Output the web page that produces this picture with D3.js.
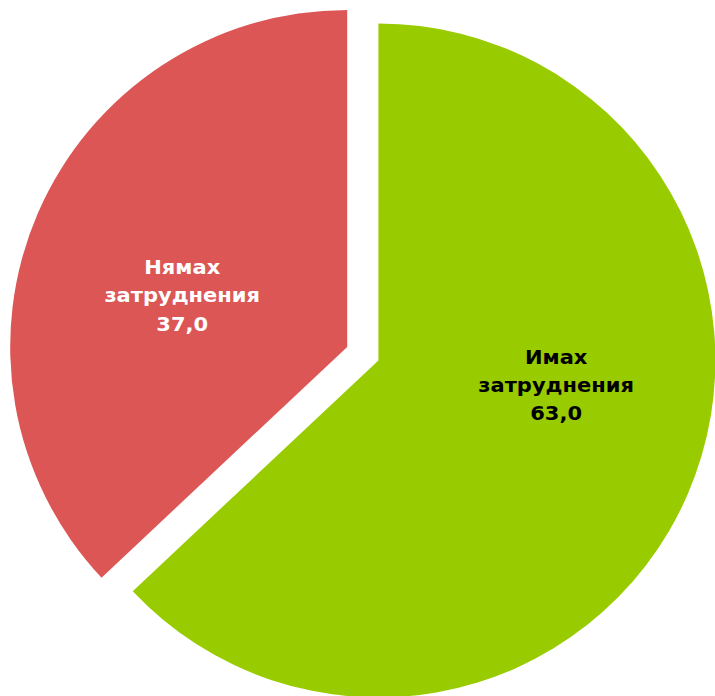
<!DOCTYPE html>
<html>
<head>
<meta charset="utf-8">
<script src="https://cdn.jsdelivr.net/npm/d3@7"></script>
<style>
  html, body { margin: 0; padding: 0; background: #ffffff; }
  svg { display: block; }
</style>
</head>
<body>
<div id="chart"></div>
<script>
// Survey answers: share of respondents (%)
const categories = ["Имах затруднения", "Нямах затруднения"];
const labelLines = [["Имах", "затруднения"], ["Нямах", "затруднения"]];
const values = [63.0, 37.0];
const colors = ["#99CC00", "#DC5656"];
const textColors = ["#000000", "#ffffff"];

const width = 715, height = 696;
const cx = 362.8, cy = 353.7;     // pie centre
const radius = 337;
const explode = 17;               // distance each slice is pulled out
// label anchor per slice: angle (radians, clockwise from 12 o'clock) and distance from slice tip
const labelPolar = [{a: 98 * Math.PI / 180, r: 179.5}, {a: 287.2 * Math.PI / 180, r: 172.7}];

const fmt = v => v.toFixed(1).replace(".", ",");

const svg = d3.select("#chart").append("svg")
  .attr("width", width).attr("height", height);

const pie = d3.pie().sort(null).value(d => d)(values);
const arc = d3.arc().innerRadius(0).outerRadius(radius);

const g = svg.append("g").attr("transform", `translate(${cx},${cy})`);

const slices = g.selectAll("g.slice").data(pie).enter().append("g")
  .attr("class", "slice")
  .attr("transform", d => {
    const mid = (d.startAngle + d.endAngle) / 2;
    return `translate(${explode * Math.sin(mid)},${-explode * Math.cos(mid)})`;
  });

slices.append("path")
  .attr("d", arc)
  .attr("fill", (d, i) => colors[i]);

const lineH = 28.2;
slices.append("text")
  .attr("transform", (d, i) => {
    const p = labelPolar[i];
    // slightly widened glyphs for a Verdana-like bold face
    return `translate(${p.r * Math.sin(p.a)},${-p.r * Math.cos(p.a)}) scale(1.13,1)`;
  })
  .attr("text-anchor", "middle")
  .attr("font-family", "'DejaVu Sans', Verdana, sans-serif")
  .attr("font-weight", "bold")
  .attr("font-size", "18.6px")
  .attr("fill", (d, i) => textColors[i])
  .each(function (d, i) {
    const t = d3.select(this);
    const lines = labelLines[i].concat([fmt(values[i])]);
    lines.forEach((s, k) => {
      t.append("tspan").attr("x", 0).attr("y", (k - 1) * lineH + 6.5).text(s);
    });
  });
</script>
</body>
</html>
